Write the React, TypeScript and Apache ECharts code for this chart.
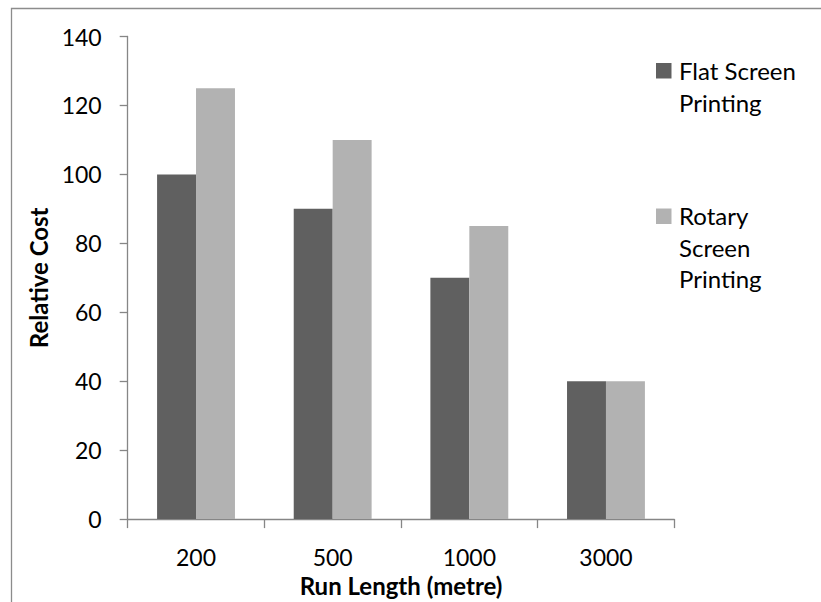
import React, { useEffect, useRef } from "react";
import * as echarts from "echarts";

const categories = ["200", "500", "1000", "3000"];
const flatScreen = [100, 90, 70, 40];
const rotaryScreen = [125, 110, 85, 40];
const seriesNames = ["Flat Screen\nPrinting", "Rotary\nScreen\nPrinting"];
const yAxisTitle = "Relative Cost";
const xAxisTitle = "Run Length (metre)";

const FONT = "Lato, 'Noto Sans', sans-serif";
const DARK = "#606060";
const LIGHT = "#b2b2b2";
const AXIS = "#868686";

export default function App() {
  const ref = useRef<HTMLDivElement>(null);
  useEffect(() => {
    if (!ref.current) return;
    const chart = echarts.init(ref.current, undefined, { renderer: "svg" });
    chart.setOption({
      animation: false,
      backgroundColor: "#ffffff",
      textStyle: { fontFamily: FONT },
      grid: { left: 127.7, right: 146.7, top: 36.5, bottom: 71 },
      xAxis: {
        type: "category",
        data: categories,
        name: xAxisTitle,
        nameLocation: "middle",
        nameGap: 38,
        nameTextStyle: { fontFamily: FONT, fontSize: 24, fontWeight: "bold", color: "#000" },
        axisLine: { lineStyle: { color: AXIS, width: 1.3 } },
        axisTick: { show: true, length: 9, alignWithLabel: false, lineStyle: { color: AXIS, width: 1.3 } },
        axisLabel: { fontFamily: FONT, fontSize: 23, color: "#000", margin: 26 },
        splitLine: { show: false },
      },
      yAxis: {
        type: "value",
        min: 0,
        max: 140,
        interval: 20,
        name: yAxisTitle,
        nameLocation: "middle",
        nameGap: 74,
        nameRotate: 90,
        nameTextStyle: { fontFamily: FONT, fontSize: 24, fontWeight: "bold", color: "#000" },
        axisLine: { show: true, lineStyle: { color: AXIS, width: 1.3 } },
        axisTick: { show: true, length: 8, lineStyle: { color: AXIS, width: 1.3 } },
        axisLabel: { fontFamily: FONT, fontSize: 23, color: "#000", margin: 26 },
        splitLine: { show: false },
      },
      series: [
        {
          name: seriesNames[0],
          type: "bar",
          data: flatScreen,
          itemStyle: { color: DARK },
          barGap: "0%",
          barCategoryGap: "43%",
        },
        {
          name: seriesNames[1],
          type: "bar",
          data: rotaryScreen,
          itemStyle: { color: LIGHT },
          barGap: "0%",
          barCategoryGap: "43%",
        },
      ],
      graphic: [
        {
          type: "rect",
          silent: true,
          shape: { x: 11.5, y: 8.5, width: 1000, height: 1000 },
          style: { fill: "none", stroke: "#8c8c8c", lineWidth: 1.3 },
        },
        {
          type: "rect",
          shape: { x: 656, y: 63, width: 15.5, height: 15.5 },
          style: { fill: DARK },
        },
        {
          type: "text",
          x: 679,
          y: 55,
          style: {
            text: seriesNames[0],
            font: `24px ${FONT}`,
            fill: "#000",
            lineHeight: 31.5,
            verticalAlign: "top",
          },
        },
        {
          type: "rect",
          shape: { x: 656, y: 208.5, width: 15.5, height: 15.5 },
          style: { fill: LIGHT },
        },
        {
          type: "text",
          x: 679,
          y: 200,
          style: {
            text: seriesNames[1],
            font: `24px ${FONT}`,
            fill: "#000",
            lineHeight: 31.5,
            verticalAlign: "top",
          },
        },
      ],
    });
    return () => chart.dispose();
  }, []);
  return <div ref={ref} style={{ width: 821, height: 602, position: "absolute", left: 0, top: 0 }} />;
}
